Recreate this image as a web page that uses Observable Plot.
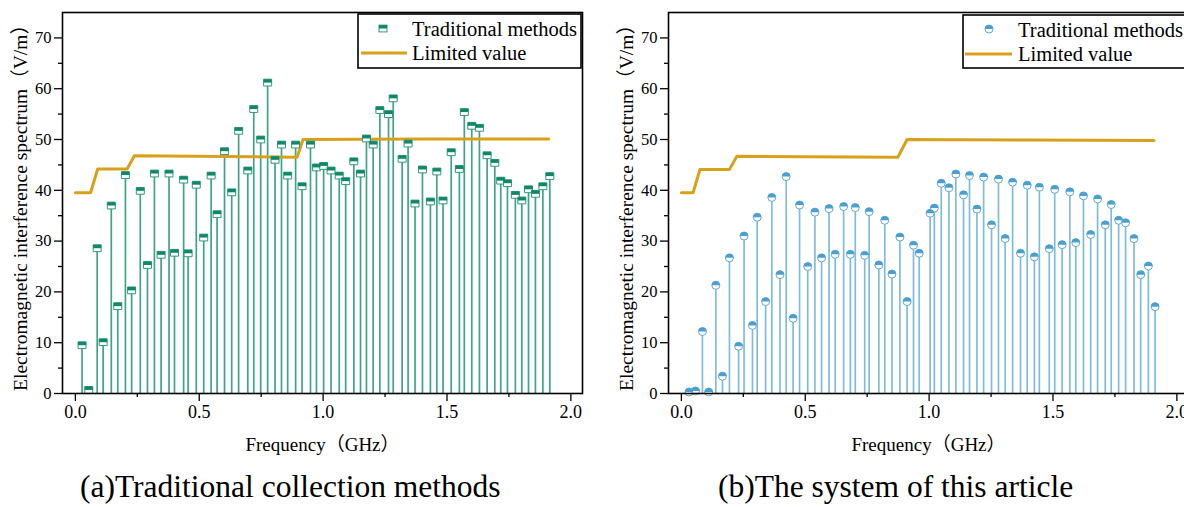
<!DOCTYPE html>
<html>
<head>
<meta charset="utf-8">
<script src="https://cdn.jsdelivr.net/npm/d3@7"></script>
<script src="https://cdn.jsdelivr.net/npm/@observablehq/plot@0.6"></script>
<style>
html,body{margin:0;padding:0;background:#fff;overflow:hidden;}
#wrap{position:relative;width:1184px;height:507px;overflow:hidden;background:#fff;}
.panel{position:absolute;top:0;}
#wrap svg, #wrap svg text{font-family:"Liberation Serif","Noto Sans CJK SC",serif !important;}
</style>
</head>
<body>
<div id="wrap"></div>
<script>
// ---------- data ----------
const freqA = [0.027,0.054,0.088,0.112,0.145,0.171,0.202,0.227,0.262,0.291,0.319,0.346,0.378,0.400,0.437,0.455,0.488,0.518,0.548,0.572,0.602,0.631,0.659,0.696,0.720,0.748,0.776,0.806,0.832,0.857,0.889,0.915,0.949,0.973,1.002,1.032,1.065,1.091,1.124,1.151,1.175,1.202,1.229,1.264,1.283,1.319,1.343,1.371,1.401,1.433,1.459,1.484,1.517,1.550,1.570,1.600,1.631,1.662,1.693,1.717,1.744,1.776,1.802,1.829,1.857,1.887,1.915];
const valA = [9.5,0.7,28.6,10.1,37.0,17.2,43.0,20.3,39.9,25.3,43.3,27.3,43.3,27.7,42.1,27.6,41.1,30.7,42.9,35.3,47.7,39.6,51.7,43.9,56.0,50.0,61.2,46.0,49.0,42.9,49.0,40.8,49.0,44.5,44.8,43.9,42.9,41.8,45.7,43.3,50.2,49.0,55.8,55.0,58.1,46.2,49.2,37.4,44.1,37.8,43.7,38.0,47.5,44.2,55.4,52.7,52.3,46.9,45.4,41.9,41.4,39.1,38.0,40.2,39.3,40.8,42.8];

const freqB = [0.031,0.057,0.085,0.110,0.139,0.166,0.194,0.231,0.253,0.287,0.306,0.340,0.365,0.398,0.423,0.451,0.477,0.510,0.539,0.566,0.596,0.621,0.655,0.682,0.702,0.740,0.758,0.797,0.821,0.850,0.882,0.911,0.937,0.960,1.004,1.021,1.049,1.080,1.108,1.139,1.163,1.193,1.220,1.252,1.280,1.307,1.337,1.369,1.396,1.425,1.445,1.485,1.507,1.537,1.568,1.592,1.623,1.652,1.680,1.711,1.735,1.765,1.793,1.827,1.854,1.885,1.912];
const valB = [0.3,0.5,12.2,0.3,21.3,3.4,26.7,9.3,31.0,13.4,34.7,18.1,38.6,23.4,42.7,14.8,37.1,25.0,35.7,26.7,36.4,27.4,36.8,27.4,36.6,27.2,35.8,25.3,34.1,23.5,30.8,18.1,29.2,27.6,35.5,36.5,41.4,40.5,43.2,39.1,42.9,36.3,42.6,33.2,42.2,30.5,41.6,27.6,41.0,26.9,40.6,28.5,40.2,29.3,39.7,29.7,38.9,31.3,38.3,33.2,37.2,34.1,33.6,30.5,23.4,25.1,17.1];

const limitFreqA = [0,0.061,0.090,0.209,0.238,0.480,0.895,0.919,1.400,1.911];
const limitValA  = [39.5,39.5,44.2,44.2,46.8,46.7,46.5,50.0,50.1,50.1];
const limitFreqB = [0,0.047,0.075,0.194,0.224,0.500,0.874,0.911,1.400,1.908];
const limitValB  = [39.5,39.5,44.1,44.1,46.7,46.6,46.5,50.0,49.9,49.8];

const xTicks = [0,0.5,1.0,1.5,2.0];
const xMinor = [0.25,0.75,1.25,1.75];
const yTicks = [0,10,20,30,40,50,60,70];
const yMinor = [5,15,25,35,45,55,65];

const yLabel = "Electromagnetic interference spectrum（V/m）";
const xLabel = "Frequency（GHz）";
const legendSeries = "Traditional methods";
const legendLimit = "Limited value";
const captionA = "(a)Traditional collection methods";
const captionB = "(b)The system of this article";

// ---------- styles ----------
const FONT = "Liberation Serif, Noto Sans CJK SC, serif";
const LIMIT_COLOR = "#d9a01c";
const A = {stem: "#3fa487", dark: "#10876a", edge: "#2f9a7c"};
const B = {stem: "#80bcd8", dark: "#4a9fd0", edge: "#5eaad4"};

// custom symbols (Plot passes size = r*r*PI)
const sqFull = {draw(c, s){ const r = Math.sqrt(s/Math.PI); const h = r*0.85; c.rect(-r, -h, 2*r, 2*h); }};
const sqTop  = {draw(c, s){ const r = Math.sqrt(s/Math.PI); const h = r*0.85; c.rect(-r, -h, 2*r, h); }};
const ciFull = {draw(c, s){ const r = Math.sqrt(s/Math.PI); c.moveTo(r,0); c.arc(0,0,r,0,2*Math.PI); c.closePath(); }};
const ciTop  = {draw(c, s){ const r = Math.sqrt(s/Math.PI); c.moveTo(-r,0); c.arc(0,0,r,Math.PI,2*Math.PI); c.closePath(); }};

function panel(freq, val, lf, lv, col, full, top) {
  const pts = freq.map((f, i) => ({f, v: val[i]}));
  const lim = lf.map((f, i) => ({f, v: lv[i]}));
  return Plot.plot({
    width: 600, height: 465,
    marginLeft: 62, marginRight: 18, marginTop: 12, marginBottom: 72,
    x: {domain: [-0.052, 2.047]},
    y: {domain: [0, 75]},
    style: {fontFamily: FONT, fontSize: "16px", color: "#000", background: "transparent", overflow: "visible"},
    marks: [
      Plot.ruleX(pts, {x: "f", y1: 0, y2: "v", stroke: col.stem, strokeWidth: 1.7}),
      Plot.line(lim, {x: "f", y: "v", stroke: LIMIT_COLOR, strokeWidth: 3}),
      Plot.dot(pts, {x: "f", y: "v", symbol: full, r: 4, fill: "white", stroke: col.edge, strokeWidth: 1}),
      Plot.dot(pts, {x: "f", y: "v", symbol: top, r: 4, fill: col.dark, stroke: "none"}),
      Plot.axisX({ticks: xTicks, tickSize: 8, tickFormat: d3.format(".1f"), fontSize: 18, tickPadding: 4, label: null, strokeWidth: 1.3}),
      Plot.axisX({ticks: xMinor, tickSize: 4, text: null, label: null, strokeWidth: 1.3}),
      Plot.axisY({ticks: yTicks, tickSize: 8, fontSize: 16.5, tickPadding: 3, label: null, strokeWidth: 1.3}),
      Plot.axisY({ticks: yMinor, tickSize: 4, text: null, label: null, strokeWidth: 1.3}),
      Plot.frame({stroke: "#000", strokeWidth: 1.6}),
      Plot.text([yLabel], {text: d => d, frameAnchor: "left", rotate: -90, dx: -42, fontSize: 19.5, textAnchor: "middle", lineAnchor: "middle", fill: "#000"}),
      Plot.text([xLabel], {text: d => d, frameAnchor: "bottom", dy: 51, fontSize: 19, textAnchor: "middle", lineAnchor: "middle", fill: "#000"})
    ]
  });
}

const wrap = document.getElementById("wrap");
const pA = panel(freqA, valA, limitFreqA, limitValA, A, sqFull, sqTop);
pA.classList.add("panel"); pA.style.left = "0px";
wrap.appendChild(pA);
const pB = panel(freqB, valB, limitFreqB, limitValB, B, ciFull, ciTop);
pB.classList.add("panel"); pB.style.left = "606px";
wrap.appendChild(pB);

// ---------- legends and captions overlay ----------
const ov = d3.select(wrap).append("svg")
  .attr("width", 1184).attr("height", 507)
  .style("position", "absolute").style("left", 0).style("top", 0);

function legend(box, mk, line, tx, kind, col) {
  ov.append("rect").attr("x", box[0]).attr("y", box[1]).attr("width", box[2]).attr("height", box[3])
    .attr("fill", "white").attr("stroke", "#000").attr("stroke-width", 1.6);
  const r = 4;
  if (kind === "sq") {
    ov.append("rect").attr("x", mk[0]-r).attr("y", mk[1]-r*0.85).attr("width", 2*r).attr("height", 1.7*r)
      .attr("fill", "white").attr("stroke", col.edge).attr("stroke-width", 1);
    ov.append("rect").attr("x", mk[0]-r).attr("y", mk[1]-r*0.85).attr("width", 2*r).attr("height", 0.85*r)
      .attr("fill", col.dark);
  } else {
    ov.append("circle").attr("cx", mk[0]).attr("cy", mk[1]).attr("r", r)
      .attr("fill", "white").attr("stroke", col.edge).attr("stroke-width", 1);
    ov.append("path").attr("transform", `translate(${mk[0]},${mk[1]})`)
      .attr("d", `M${-r},0A${r},${r} 0 0 1 ${r},0Z`).attr("fill", col.dark);
  }
  ov.append("text").attr("x", tx).attr("y", mk[1] + 7.5).attr("font-size", 20.5).text(legendSeries);
  ov.append("line").attr("x1", line[0]).attr("x2", line[1]).attr("y1", line[2]).attr("y2", line[2])
    .attr("stroke", LIMIT_COLOR).attr("stroke-width", 3);
  ov.append("text").attr("x", tx).attr("y", line[2] + 7).attr("font-size", 20.5).text(legendLimit);
}
legend([358, 14, 223, 54], [383, 28.5], [361, 407, 53], 412, "sq", A);
legend([963, 15, 240, 53], [989, 29], [965, 1012, 54], 1018, "ci", B);

ov.append("text").attr("x", 80).attr("y", 497).attr("font-size", 31.5).text(captionA);
ov.append("text").attr("x", 718).attr("y", 497).attr("font-size", 31.5).text(captionB);
</script>
</body>
</html>
